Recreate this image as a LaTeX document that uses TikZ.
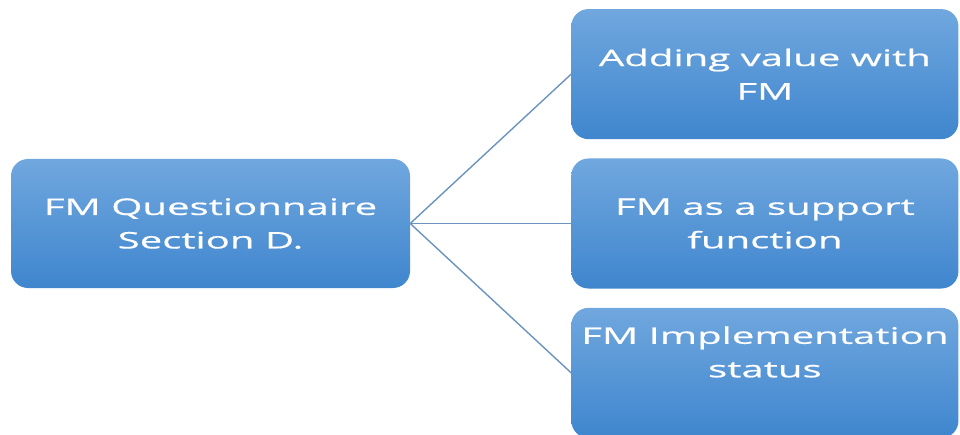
\documentclass[tikz,border=0pt]{standalone}
\usepackage{fontspec}
\setmainfont{Open Sans}[FakeStretch=1.76, FakeBold=0.6]
\definecolor{BoxTop}{HTML}{70A7DE}
\definecolor{BoxBottom}{HTML}{3F86CE}
\definecolor{LinkBlue}{HTML}{6C93C0}
\usetikzlibrary{positioning}

\begin{document}
\begin{tikzpicture}[x=1pt, y=1pt,
    fmbox/.style={rounded corners=17pt, top color=BoxTop, bottom color=BoxBottom,
      text=white, align=center, font=\fontsize{22.8}{33.5}\selectfont,
      minimum width=387pt, minimum height=130pt, inner sep=0pt},
    link/.style={LinkBlue, line width=1.4pt}]
  \useasboundingbox (0,0) rectangle (960,434);
  \clip (0,0) rectangle (960,434);
  \node[fmbox, minimum width=399pt, minimum height=129pt] (sec) at (210.5,210.5)
    {FM Questionnaire\\Section D.};
  \node[fmbox, right=161pt of sec] (support) {FM as a support\\function};
  \node[fmbox, above=19pt of support] (value) {Adding value with\\FM};
  \node[fmbox, below=19pt of support, text depth=42pt] (status)
    {FM Implementation\\status};
  \draw[link] (sec.east) -- (value.west);
  \draw[link] (sec.east) -- (support.west);
  \draw[link] (sec.east) -- (status.west);
\end{tikzpicture}
\end{document}
